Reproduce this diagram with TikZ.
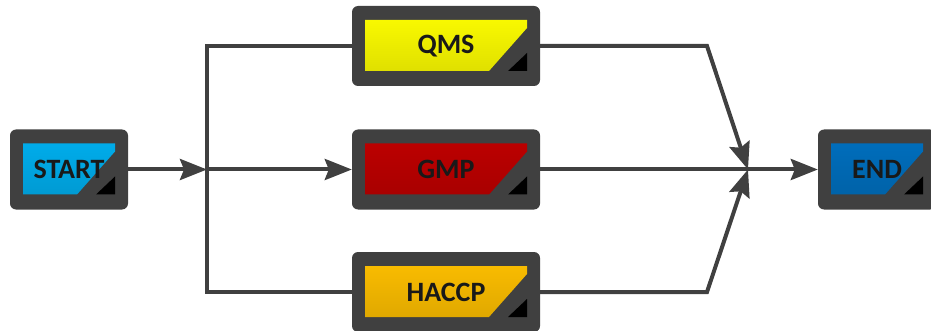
\documentclass[tikz,border=0pt]{standalone}
\usepackage{fontspec}
\setmainfont{Carlito}
\usetikzlibrary{arrows.meta}
\definecolor{boxgray}{HTML}{404040}
\definecolor{linegray}{HTML}{404040}
\definecolor{startblue}{HTML}{00B0F0}
\definecolor{qmsyellow}{HTML}{FFFF00}
\definecolor{gmpred}{HTML}{C00000}
\definecolor{haccporange}{HTML}{FFC000}
\definecolor{endblue}{HTML}{0070C0}
\begin{document}
\begin{tikzpicture}[
    x=1pt, y=-1pt,
    stagebox/.style={rectangle, rounded corners=6pt, fill=boxgray, inner sep=0pt,
        minimum height=80pt, text=black!90,
        font=\bfseries\fontsize{28}{30}\selectfont,
        path picture={
            \shade[top color=#1, bottom color=#1!85!black, sharp corners]
                ([xshift=13pt,yshift=-14pt]path picture bounding box.north west)
                -- ([xshift=-13pt,yshift=-14pt]path picture bounding box.north east)
                -- ([xshift=-13pt,yshift=-22pt]path picture bounding box.north east)
                -- ([xshift=-51pt,yshift=15pt]path picture bounding box.south east)
                -- ([xshift=13pt,yshift=15pt]path picture bounding box.south west) -- cycle;
            \fill[black, sharp corners]
                ([xshift=-13pt,yshift=15pt]path picture bounding box.south east)
                -- ([xshift=-32pt,yshift=15pt]path picture bounding box.south east)
                -- ([xshift=-13pt,yshift=33pt]path picture bounding box.south east) -- cycle;
        }},
    wide/.style={minimum width=188pt},
    small/.style={minimum width=118pt},
    flow/.style={line width=4pt, draw=linegray},
    arr/.style={flow, -{Stealth[length=27pt, width=21pt, inset=4pt]}}
]
    \useasboundingbox (0,0) rectangle (931,331);

    % Boxes using absolute coordinates
    \node[stagebox=startblue, small] (start) at (69,169.5) {START};
    \node[stagebox=qmsyellow, wide] (qms) at (446,46) {QMS};
    \node[stagebox=gmpred, wide] (gmp) at (446,169.5) {GMP};
    \node[stagebox=haccporange, wide] (haccp) at (446,292) {HACCP};
    \node[stagebox=endblue, small] (end) at (877,169.5) {END};

    % Split and join points
    \coordinate (split) at (207,169.5);
    \coordinate (join) at (748,169.5);
    \coordinate (qmsbend) at (707,46);
    \coordinate (haccpbend) at (707,292);

    % Fan out
    \draw[arr] (start.east) -- (split);
    \draw[flow] (split) |- (qms.west);
    \draw[arr] (split) -- (gmp.west);
    \draw[flow] (split) |- (haccp.west);

    % Fan in
    \draw[arr] (qms.east) -- (qmsbend) -- (join);
    \draw[arr] (haccp.east) -- (haccpbend) -- (join);
    \draw[arr] (gmp.east) -- (end.west);
\end{tikzpicture}
\end{document}
